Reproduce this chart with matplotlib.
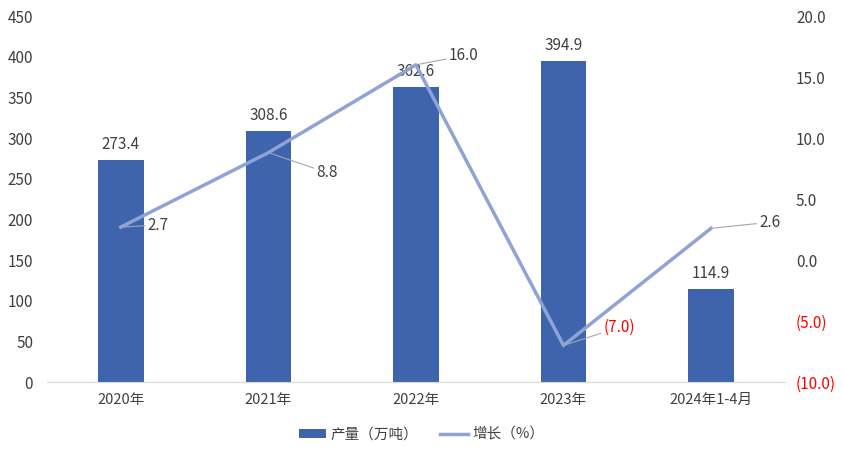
import matplotlib
matplotlib.use("Agg")
import matplotlib.pyplot as plt
from matplotlib.lines import Line2D
from matplotlib.patches import Patch

plt.rcParams['font.family'] = ['Noto Sans CJK SC', 'DejaVu Sans']

categories = ["2020年", "2021年", "2022年", "2023年", "2024年1-4月"]
output = [273.4, 308.6, 362.6, 394.9, 114.9]
growth = [2.7, 8.8, 16.0, -7.0, 2.6]

bar_color = "#3D64AD"
line_color = "#8FA3D5"
text_color = "#404040"

# offsets (pixels) for the growth labels
label_offsets = [(27, 2), (48, -20), (33, 9), (40, 18), (48, 6)]

fig = plt.figure(figsize=(8.43, 4.55), dpi=100)
ax = fig.add_axes([0.0558, 0.1604, 0.8752, 0.8044])
ax2 = ax.twinx()

x = list(range(len(categories)))
bars = ax.bar(x, output, width=0.31, color=bar_color, zorder=2)
ax.set_xlim(-0.5, len(categories) - 0.5)
ax.set_ylim(0, 450)
ax.set_yticks(range(0, 451, 50))
ax.set_xticks(x)
ax.set_xticklabels(categories, fontsize=10.5, color=text_color)

for xi, v in zip(x, output):
    ax.annotate(f"{v:.1f}", (xi, v), xytext=(0, 5), textcoords="offset points",
                ha="center", va="bottom", fontsize=11, color=text_color)

ax2.plot(x, growth, color=line_color, lw=2.5, zorder=3)
ax2.set_ylim(-10, 20)
ax2.set_yticks(range(-10, 21, 5))
ax2.set_yticklabels([f"({abs(t):.1f})" if t < 0 else f"{t:.1f}" for t in range(-10, 21, 5)])

for xi, g, (dx, dy) in zip(x, growth, label_offsets):
    txt = f"({abs(g):.1f})" if g < 0 else f"{g:.1f}"
    ax2.annotate(txt, (xi, g), xytext=(dx, dy), textcoords="offset pixels",
                 ha="left", va="center", fontsize=11,
                 color="#FF0000" if g < 0 else text_color,
                 arrowprops=dict(arrowstyle="-", color="#A6A6A6", lw=0.8,
                                 shrinkA=0, shrinkB=2))

for a in (ax, ax2):
    for s in ("top", "left", "right", "bottom"):
        a.spines[s].set_visible(False)
    a.tick_params(length=0, labelsize=11, colors=text_color)
ax.spines["bottom"].set_visible(True)
ax.spines["bottom"].set_color("#D9D9D9")
ax.tick_params(axis="x", labelsize=10.5, pad=8)
ax.tick_params(axis="y", pad=10)
ax2.tick_params(axis="y", pad=8)
for lab, t in zip(ax2.get_yticklabels(), range(-10, 21, 5)):
    lab.set_color("#FF0000" if t < 0 else text_color)

handles = [Patch(facecolor=bar_color, label="产量（万吨）"),
           Line2D([0], [0], color=line_color, lw=2.5, label="增长（%）")]
fig.legend(handles=handles, loc="center", bbox_to_anchor=(0.5, 0.045), ncol=2,
           frameon=False, fontsize=10.5, labelcolor=text_color,
           handlelength=1.9, handleheight=0.5, handletextpad=0.3, columnspacing=1.5)

fig.savefig("out.png", dpi=100)
